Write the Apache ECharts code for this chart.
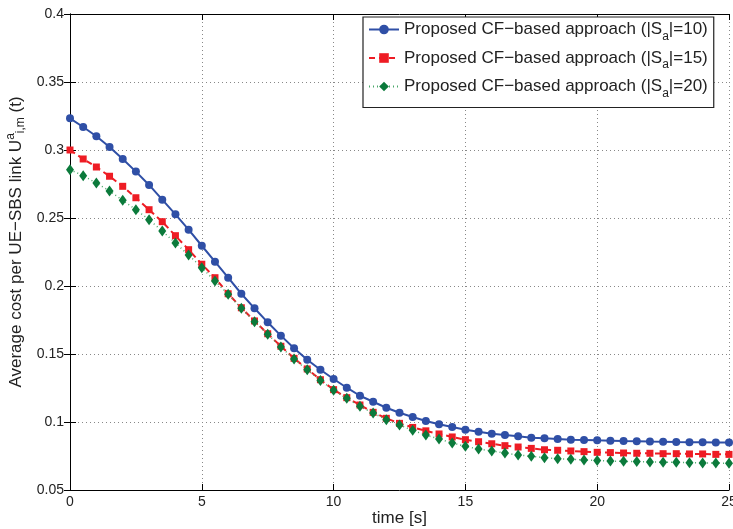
<!DOCTYPE html>
<html>
<head>
<meta charset="utf-8">
<script src="https://cdn.jsdelivr.net/npm/echarts@6/dist/echarts.min.js"></script>
<style>
html,body{margin:0;padding:0;background:#fff;}
#c{width:733px;height:529px;}
</style>
</head>
<body>
<div id="c"></div>
<script>
const times = [0,0.5,1,1.5,2,2.5,3,3.5,4,4.5,5,5.5,6,6.5,7,7.5,8,8.5,9,9.5,10,10.5,11,11.5,12,12.5,13,13.5,14,14.5,15,15.5,16,16.5,17,17.5,18,18.5,19,19.5,20,20.5,21,21.5,22,22.5,23,23.5,24,24.5,25];
const sa10 = [0.3233,0.3169,0.3101,0.3022,0.2934,0.2841,0.2743,0.2635,0.2527,0.2414,0.2296,0.2179,0.2061,0.1943,0.1836,0.1733,0.1635,0.1542,0.1458,0.1384,0.1316,0.1252,0.1193,0.1149,0.1105,0.1068,0.1037,0.1007,0.0983,0.0963,0.0943,0.0929,0.0914,0.0904,0.0895,0.0885,0.0880,0.0875,0.0870,0.0868,0.0865,0.0863,0.0860,0.0858,0.0856,0.0855,0.0853,0.0852,0.0851,0.0850,0.0850];
const sa15 = [0.3000,0.2934,0.2875,0.2807,0.2733,0.2649,0.2561,0.2473,0.2370,0.2267,0.2160,0.2061,0.1943,0.1840,0.1743,0.1649,0.1557,0.1468,0.1390,0.1311,0.1238,0.1179,0.1125,0.1071,0.1027,0.0990,0.0960,0.0935,0.0912,0.0890,0.0870,0.0855,0.0840,0.0826,0.0816,0.0806,0.0796,0.0792,0.0787,0.0782,0.0777,0.0775,0.0772,0.0770,0.0770,0.0767,0.0767,0.0765,0.0765,0.0762,0.0762];
const sa20 = [0.2855,0.2811,0.2757,0.2699,0.2630,0.2561,0.2488,0.2404,0.2316,0.2228,0.2135,0.2037,0.1939,0.1836,0.1738,0.1645,0.1551,0.1463,0.1384,0.1306,0.1233,0.1174,0.1115,0.1066,0.1017,0.0978,0.0939,0.0904,0.0875,0.0846,0.0821,0.0801,0.0787,0.0772,0.0757,0.0748,0.0738,0.0730,0.0726,0.0721,0.0716,0.0713,0.0711,0.0709,0.0706,0.0704,0.0704,0.0701,0.0699,0.0699,0.0696];
const seriesNames = ['s10','s15','s20'];
const seriesSizes = ['10','15','20'];

const FONT = '"Liberation Sans", Arial, Helvetica, sans-serif';
function pts(arr){ return times.map((t,i)=>[t, arr[i]]); }

const chart = echarts.init(document.getElementById('c'), null, {renderer:'canvas'});
const axisCommon = {
  axisLine:{show:true, lineStyle:{color:'#000', width:1}},
  axisTick:{show:true, inside:true, length:6, lineStyle:{color:'#000'}},
};
chart.setOption({
  animation:false,
  backgroundColor:'#fff',
  textStyle:{fontFamily:FONT},
  grid:{left:70, right:4, top:14, bottom:39, containLabel:false, outerBoundsMode:'none'},
  legend:{
    orient:'vertical', left:363, top:17, width:355,
    padding:[4,6,8,5],
    backgroundColor:'#fff', borderColor:'#222', borderWidth:1.2, borderRadius:0,
    itemWidth:30, itemHeight:12, itemGap:7,
    data:seriesNames,
    formatter:function(name){
      const k = seriesNames.indexOf(name);
      return 'Proposed CF\u2212based approach (|S{sub|a}|=' + seriesSizes[k] + ')';
    },
    textStyle:{fontSize:17, color:'#222', fontFamily:FONT, padding:[0,0,0,0],
      rich:{sub:{fontSize:12, padding:[14,0,0,0], fontFamily:FONT, color:'#222'}}}
  },
  xAxis:[
    Object.assign({type:'value', min:0, max:25, interval:5,
      name:'time [s]', nameLocation:'middle', nameGap:20, nameMoveOverlap:false,
      nameTextStyle:{fontSize:17, color:'#222', fontFamily:FONT},
      axisLabel:{color:'#222', fontSize:14, margin:5, fontFamily:FONT},
      splitLine:{show:true, lineStyle:{color:'#888', type:[1,3], width:1}}}, axisCommon),
    Object.assign({type:'value', min:0, max:25, interval:5, position:'top',
      axisLabel:{show:false}, splitLine:{show:false}}, axisCommon)
  ],
  yAxis:[
    Object.assign({type:'value', min:0.05, max:0.4, interval:0.05,
      name:'Average cost per UE\u2212SBS link U{sup|a}{sub|i,m} (t)',
      nameLocation:'middle', nameRotate:90, nameGap:43, nameMoveOverlap:false,
      nameTextStyle:{fontSize:17, color:'#222', fontFamily:FONT, padding:[0,0,0,20],
        rich:{sup:{fontSize:12, padding:[0,0,10,0], fontFamily:FONT, color:'#222'},
              sub:{fontSize:12, padding:[10,0,0,0], fontFamily:FONT, color:'#222'}}},
      axisLabel:{color:'#222', fontSize:14, margin:6, fontFamily:FONT,
        formatter:function(v){ return String(parseFloat(v.toFixed(2))); }},
      splitLine:{show:true, lineStyle:{color:'#888', type:[1,3], width:1}}}, axisCommon),
    Object.assign({type:'value', min:0.05, max:0.4, interval:0.05, position:'right',
      axisLabel:{show:false}, splitLine:{show:false}}, axisCommon)
  ],
  series:[
    {name:'s10', type:'line', data:pts(sa10), xAxisIndex:0, yAxisIndex:0,
      symbol:'circle', symbolSize:8, showAllSymbol:true,
      lineStyle:{color:'#2f4fa6', width:2},
      itemStyle:{color:'#2f4fa6'}},
    {name:'s15', type:'line', data:pts(sa15), xAxisIndex:0, yAxisIndex:0,
      symbol:'rect', symbolSize:7, showAllSymbol:true,
      lineStyle:{color:'#ee1c24', width:2, type:[6,4]},
      itemStyle:{color:'#ee1c24'}},
    {name:'s20', type:'line', data:pts(sa20), xAxisIndex:0, yAxisIndex:0,
      symbol:'diamond', symbolSize:[8,11], showAllSymbol:true,
      lineStyle:{color:'#4aa86a', width:1.5, type:[1,3]},
      itemStyle:{color:'#0b7a3b'}}
  ]
});
</script>
</body>
</html>
